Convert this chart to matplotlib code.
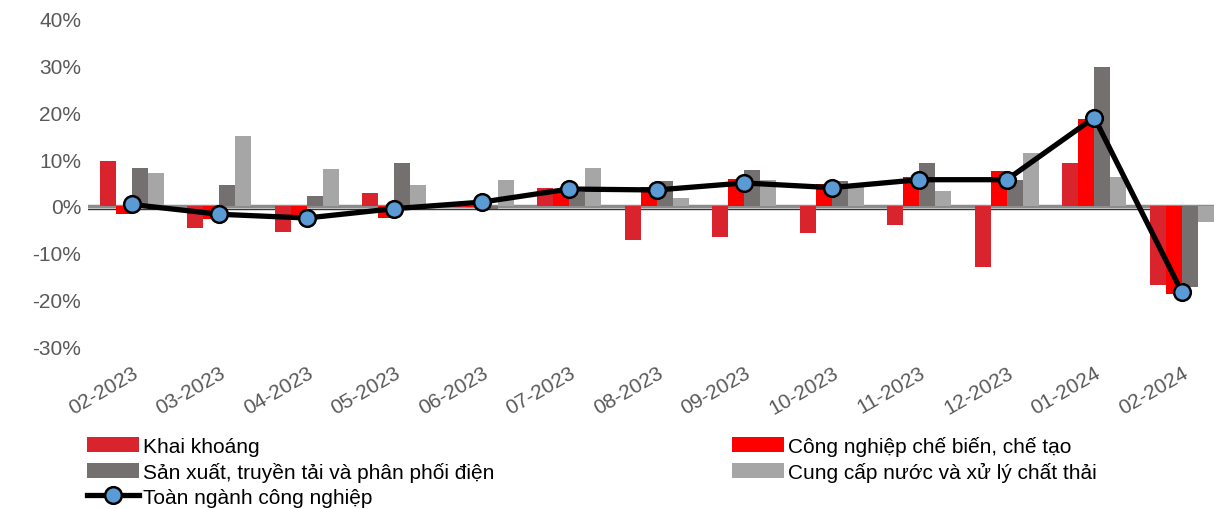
import numpy as np
import matplotlib
matplotlib.use("Agg")
import matplotlib.pyplot as plt
import matplotlib.transforms as mtransforms

plt.rcParams['font.family'] = ['Liberation Sans', 'DejaVu Sans']

months = ["02-2023", "03-2023", "04-2023", "05-2023", "06-2023", "07-2023", "08-2023",
          "09-2023", "10-2023", "11-2023", "12-2023", "01-2024", "02-2024"]

# growth rates, %
khai_khoang = [9.6, -4.8, -5.6, 2.8, -0.3, 3.9, -7.3, -6.7, -5.9, -4.0, -13.0, 9.1, -17.0]
che_bien = [-1.7, -2.8, -2.1, -2.5, -0.3, 3.6, 4.0, 5.7, 4.7, 6.1, 7.4, 18.5, -18.9]
dien = [8.1, 4.5, 2.1, 9.2, -0.6, 3.0, 5.4, 7.7, 5.3, 9.1, 5.6, 29.7, -17.3]
nuoc = [7.0, 14.9, 7.9, 4.5, 5.5, 8.1, 1.7, 5.6, 4.7, 3.1, 11.4, 6.1, -3.4]
toan_nganh = [0.3, -1.8, -2.6, -0.6, 0.8, 3.6, 3.4, 4.9, 3.9, 5.6, 5.6, 18.9, -18.4]

labels = ["Khai khoáng", "Công nghiệp chế biến, chế tạo",
          "Sản xuất, truyền tải và phân phối điện", "Cung cấp nước và xử lý chất thải",
          "Toàn ngành công nghiệp"]
colors = ["#D9232D", "#FF0000", "#757070", "#A6A6A6"]

fig = plt.figure(figsize=(12.14, 5.10), dpi=100)
ax = fig.add_axes([0.0725, 0.3196, 0.937, 0.6412])

x = np.arange(len(months))
w = 0.183
series = [khai_khoang, che_bien, dien, nuoc]
bars = []
for i, (vals, c) in enumerate(zip(series, colors)):
    b = ax.bar(x + (i - 1.5) * w, np.array(vals) / 100, w, color=c, zorder=2)
    bars.append(b)

# zero axis: gray band plus thin dark line just under it
ax.axhline(0, color="#8C8C8C", lw=2.5, zorder=1)
off = mtransforms.offset_copy(ax.transData, fig=fig, x=0, y=-3, units="dots")
ax.plot([-0.5, len(months) - 0.5], [0, 0], color="#333333", lw=1, transform=off, zorder=1)

line, = ax.plot(x, np.array(toan_nganh) / 100, color="black", lw=3.8, marker="o",
                markersize=12, markerfacecolor="#5B9BD5", markeredgecolor="black",
                markeredgewidth=1.8, zorder=3)

ax.set_xlim(-0.5, len(months) - 0.5)
ax.set_ylim(-0.30, 0.40)
ax.set_yticks(np.arange(-0.3, 0.41, 0.1))
ax.set_yticklabels([f"{v}%" for v in range(-30, 41, 10)])
ax.set_xticks(x)
ax.set_xticklabels(months, rotation=30, ha="right", rotation_mode="anchor")
ax.tick_params(axis="both", length=0, labelsize=15, labelcolor="#595959")
ax.tick_params(axis="x", pad=12)
ax.tick_params(axis="y", pad=5)
for s in ax.spines.values():
    s.set_visible(False)

handles = [bars[0], bars[2], line, bars[1], bars[3]]
leg_labels = [labels[0], labels[2], labels[4], labels[1], labels[3]]
fig.legend(handles, leg_labels, ncol=2, loc="upper left", bbox_to_anchor=(0.063, 0.164),
           frameon=False, fontsize=15, handlelength=2.5, handleheight=0.75,
           handletextpad=0.2, labelspacing=0.29, columnspacing=11.4, borderpad=0)

fig.savefig("out.png", dpi=100)
